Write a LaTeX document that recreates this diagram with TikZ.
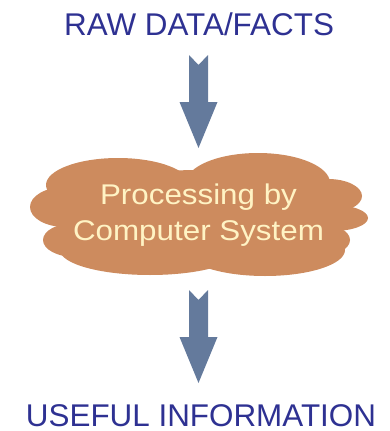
\documentclass[tikz,border=0pt]{standalone}
\usepackage{fontspec}
\setmainfont{Liberation Sans}
\newfontfamily\cloudfont[FakeStretch=1.1]{Liberation Sans}
\definecolor{labelblue}{HTML}{2E3192}
\definecolor{arrowslate}{HTML}{647A9C}
\definecolor{cloudbrown}{HTML}{CD8B5E}
\definecolor{cloudtext}{HTML}{FFF3C4}
\tikzset{
  title/.style={anchor=base, inner sep=0pt, text=labelblue, font=\fontsize{31.4}{36}\selectfont},
  cloudlabel/.style={anchor=north, inner sep=0pt, align=center, text=cloudtext, font=\cloudfont\fontsize{28.5}{36}\selectfont},
  bigarrow/.style={fill=arrowslate, draw=none},
  cloudfill/.style={fill=cloudbrown, draw=none}
}
\begin{document}
\begin{tikzpicture}[x=1pt,y=-1pt]
\useasboundingbox (0,0) rectangle (390,431);
% cloud made of overlapping lobes
\begin{scope}[cloudfill]
  \fill (198,215) ellipse [x radius=140, y radius=45];
  \fill (118,185) ellipse [x radius=72, y radius=27];
  \fill (258,183) ellipse [x radius=72, y radius=30];
  \fill (65,207) ellipse [x radius=35, y radius=20];
  \fill (75,240) ellipse [x radius=32, y radius=17];
  \fill (150,250) ellipse [x radius=90, y radius=25];
  \fill (265,250) ellipse [x radius=80, y radius=26];
  \fill (328,196) ellipse [x radius=34, y radius=17];
  \fill (333,218) ellipse [x radius=35, y radius=13];
  \fill (320,240) ellipse [x radius=30, y radius=16];
\end{scope}
\node[title] (raw) at (199,35) {RAW DATA/FACTS};
\node[title] (useful) at (201,426.5) {USEFUL INFORMATION};
\node[cloudlabel] (proc) at (198.5,183.8) {Processing by\\Computer System};
% arrows
\fill[bigarrow] (189,55) -- (198.5,65) -- (208,55) -- (208,102) -- (217.5,102)
  -- (198.5,148) -- (179.5,102) -- (189,102) -- cycle;
\fill[bigarrow] (189,290) -- (198.5,300) -- (208,290) -- (208,337) -- (217.5,337)
  -- (198.5,383) -- (179.5,337) -- (189,337) -- cycle;
\end{tikzpicture}
\end{document}
